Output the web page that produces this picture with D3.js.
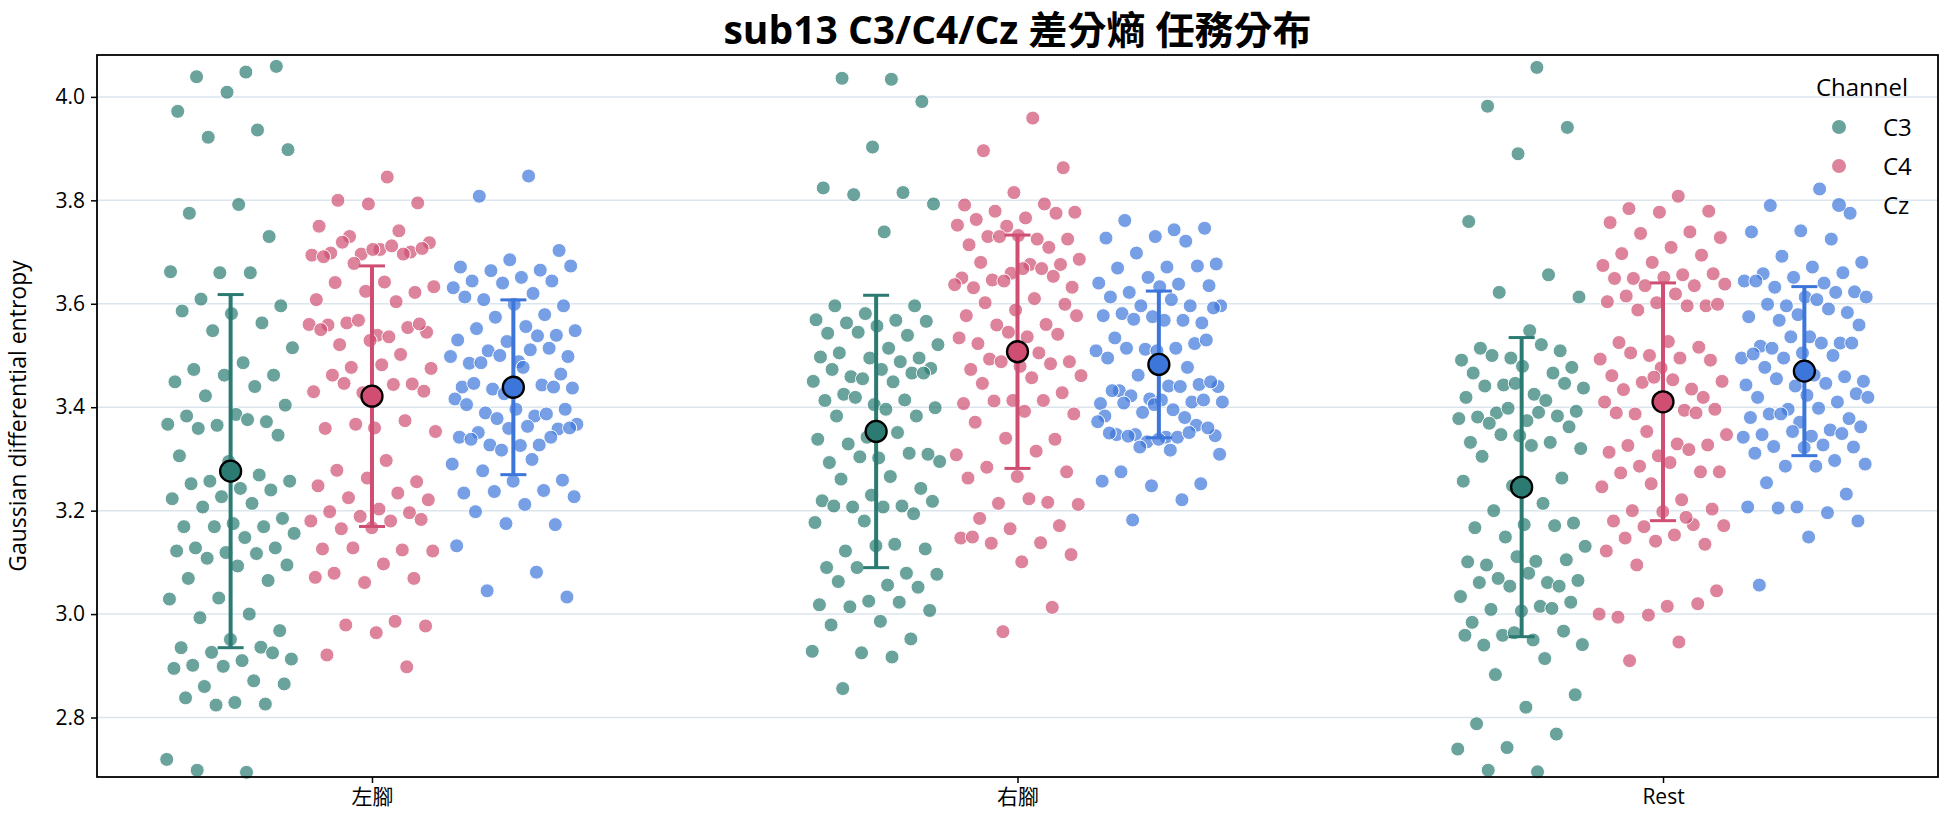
<!DOCTYPE html>
<html lang="zh-Hant">
<head>
<meta charset="utf-8">
<title>sub13 C3/C4/Cz 差分熵 任務分布</title>
<script src="https://cdn.jsdelivr.net/npm/d3@7"></script>
<style>
  body { margin: 0; background: #fff; }
  text { font-family: "Open Sans", "Noto Sans CJK TC", sans-serif; fill: #000; }
  .axis text { font-size: 21px; }
  .axis line { stroke: #000; stroke-width: 1.5; }
  .grid line { stroke: #dbe5ee; stroke-width: 1.5; }
</style>
</head>
<body>
<div id="chart"></div>
<script>
const categories = ['左腳', '右腳', 'Rest'];
const channels = ['C3', 'C4', 'Cz'];
const y_ticks = [2.8, 3.0, 3.2, 3.4, 3.6, 3.8, 4.0];

// values, one array per task x channel
const left_C3 = [4.048,4.039,4.059,4.009,3.972,3.936,3.922,3.898,3.792,3.775,3.730,3.660,3.662,3.660,3.609,3.596,3.581,3.586,3.563,3.548,3.515,3.486,3.473,3.462,3.462,3.449,3.440,3.422,3.404,3.386,3.383,3.372,3.365,3.367,3.376,3.359,3.346,3.295,3.306,3.269,3.257,3.257,3.243,3.252,3.240,3.227,3.223,3.214,3.207,3.185,3.175,3.169,3.169,3.169,3.156,3.148,3.128,3.128,3.119,3.122,3.117,3.108,3.095,3.093,3.069,3.065,3.031,3.029,3.000,2.993,2.968,2.951,2.935,2.936,2.926,2.913,2.910,2.901,2.925,2.899,2.895,2.871,2.860,2.865,2.829,2.838,2.826,2.824,2.719,2.694,2.698];
const left_C4 = [3.845,3.800,3.795,3.793,3.750,3.741,3.730,3.718,3.705,3.698,3.700,3.696,3.694,3.712,3.719,3.707,3.705,3.691,3.696,3.678,3.633,3.642,3.641,3.622,3.624,3.608,3.604,3.563,3.545,3.539,3.559,3.554,3.568,3.560,3.536,3.521,3.561,3.529,3.550,3.502,3.477,3.475,3.482,3.462,3.445,3.428,3.430,3.444,3.446,3.431,3.360,3.359,3.374,3.367,3.353,3.297,3.278,3.256,3.263,3.248,3.234,3.225,3.221,3.203,3.198,3.196,3.189,3.180,3.180,3.165,3.183,3.167,3.126,3.124,3.128,3.122,3.097,3.079,3.069,3.061,3.071,2.986,2.979,2.977,2.964,2.921,2.898];
const left_Cz = [3.847,3.808,3.703,3.685,3.671,3.665,3.664,3.673,3.651,3.644,3.644,3.640,3.631,3.620,3.608,3.596,3.599,3.613,3.579,3.574,3.548,3.556,3.552,3.539,3.527,3.530,3.538,3.509,3.498,3.488,3.485,3.514,3.500,3.498,3.511,3.486,3.464,3.444,3.439,3.443,3.435,3.437,3.477,3.446,3.439,3.426,3.416,3.383,3.389,3.396,3.396,3.405,3.387,3.378,3.367,3.363,3.351,3.358,3.359,3.342,3.327,3.327,3.360,3.326,3.338,3.342,3.317,3.290,3.299,3.277,3.259,3.257,3.234,3.239,3.237,3.227,3.212,3.198,3.173,3.175,3.132,3.081,3.045,3.033];
const right_C3 = [4.034,4.036,3.991,3.903,3.824,3.815,3.811,3.793,3.739,3.596,3.596,3.581,3.569,3.568,3.563,3.566,3.557,3.543,3.539,3.545,3.521,3.514,3.505,3.495,3.495,3.497,3.488,3.459,3.475,3.473,3.473,3.466,3.455,3.450,3.449,3.425,3.466,3.405,3.413,3.414,3.419,3.399,3.396,3.383,3.383,3.342,3.338,3.351,3.329,3.309,3.302,3.293,3.311,3.304,3.295,3.266,3.261,3.243,3.230,3.219,3.209,3.207,3.218,3.207,3.209,3.194,3.180,3.177,3.135,3.122,3.126,3.132,3.090,3.079,3.090,3.077,3.056,3.063,3.052,3.025,3.018,3.023,3.014,3.007,2.986,2.979,2.952,2.925,2.928,2.917,2.856];
const right_C4 = [3.959,3.896,3.863,3.815,3.791,3.793,3.779,3.777,3.766,3.763,3.775,3.750,3.752,3.725,3.730,3.725,3.732,3.714,3.709,3.730,3.686,3.676,3.680,3.676,3.659,3.650,3.668,3.646,3.632,3.668,3.631,3.653,3.644,3.637,3.610,3.602,3.599,3.588,3.577,3.560,3.559,3.577,3.536,3.523,3.541,3.545,3.534,3.505,3.493,3.488,3.479,3.473,3.484,3.488,3.461,3.457,3.446,3.428,3.413,3.407,3.413,3.412,3.387,3.392,3.371,3.338,3.340,3.308,3.315,3.284,3.275,3.266,3.263,3.216,3.214,3.212,3.223,3.185,3.171,3.165,3.147,3.138,3.137,3.115,3.101,3.149,3.013,2.966];
const right_Cz = [3.743,3.761,3.746,3.730,3.727,3.721,3.698,3.677,3.671,3.669,3.673,3.651,3.640,3.638,3.622,3.635,3.633,3.613,3.596,3.596,3.596,3.608,3.581,3.563,3.575,3.577,3.568,3.570,3.592,3.568,3.534,3.523,3.512,3.509,3.514,3.514,3.530,3.509,3.495,3.477,3.462,3.440,3.441,3.432,3.444,3.416,3.407,3.440,3.422,3.449,3.414,3.432,3.410,3.390,3.410,3.395,3.408,3.414,3.405,3.383,3.380,3.347,3.345,3.342,3.347,3.365,3.333,3.372,3.342,3.344,3.360,3.338,3.350,3.351,3.323,3.309,3.317,3.275,3.252,3.248,3.257,3.221,3.182];
const rest_C3 = [4.057,3.982,3.941,3.890,3.759,3.656,3.622,3.613,3.548,3.514,3.509,3.495,3.491,3.521,3.500,3.477,3.479,3.466,3.466,3.443,3.437,3.425,3.441,3.446,3.446,3.419,3.413,3.389,3.392,3.374,3.381,3.383,3.398,3.378,3.390,3.369,3.362,3.345,3.332,3.332,3.347,3.320,3.326,3.305,3.263,3.248,3.257,3.214,3.200,3.176,3.173,3.167,3.171,3.149,3.131,3.102,3.095,3.105,3.111,3.101,3.061,3.069,3.065,3.079,3.061,3.054,3.054,3.034,3.015,3.009,3.023,3.006,2.984,3.011,2.959,2.941,2.950,2.940,2.967,2.964,2.959,2.914,2.883,2.844,2.820,2.788,2.768,2.742,2.739,2.695,2.698];
const rest_C4 = [3.808,3.784,3.779,3.777,3.757,3.739,3.736,3.728,3.709,3.697,3.694,3.680,3.674,3.656,3.649,3.658,3.651,3.649,3.635,3.635,3.638,3.619,3.615,3.596,3.602,3.604,3.596,3.588,3.599,3.527,3.525,3.516,3.500,3.493,3.495,3.505,3.491,3.476,3.461,3.435,3.448,3.450,3.453,3.434,3.419,3.458,3.410,3.394,3.387,3.396,3.408,3.389,3.389,3.353,3.347,3.329,3.326,3.327,3.306,3.313,3.318,3.286,3.275,3.293,3.273,3.275,3.252,3.246,3.221,3.200,3.203,3.198,3.180,3.173,3.169,3.171,3.153,3.147,3.135,3.141,3.122,3.187,3.095,3.045,3.015,2.994,3.020,2.998,3.000,2.946,2.910];
const rest_Cz = [3.822,3.790,3.775,3.741,3.739,3.725,3.692,3.680,3.671,3.658,3.660,3.651,3.644,3.640,3.632,3.623,3.613,3.644,3.622,3.596,3.613,3.608,3.599,3.583,3.579,3.575,3.590,3.568,3.559,3.536,3.518,3.524,3.536,3.495,3.524,3.514,3.524,3.505,3.503,3.500,3.495,3.450,3.462,3.477,3.459,3.441,3.443,3.446,3.455,3.426,3.423,3.419,3.410,3.396,3.419,3.398,3.387,3.378,3.371,3.380,3.356,3.387,3.362,3.344,3.347,3.349,3.353,3.342,3.327,3.324,3.323,3.322,3.311,3.297,3.286,3.290,3.286,3.254,3.232,3.207,3.207,3.196,3.205,3.180,3.149,3.056];

const series = {
  C3: [left_C3, right_C3, rest_C3],
  C4: [left_C4, right_C4, rest_C4],
  Cz: [left_Cz, right_Cz, rest_Cz]
};

const svg_width = 1944;
const svg_height = 827;
const margin = {top: 55, right: 6, bottom: 50, left: 97};
const colors = {C3: '#2b7b72', C4: '#cf4e72', Cz: '#3d76db'};
const dodge = 0.219;     // hue offset, in category units
const jitter = 0.1;      // half width of the strip

const svg = d3.select('#chart')
  .append('svg')
  .attr('width', svg_width)
  .attr('height', svg_height);

const x_scale = d3.scaleLinear()
  .domain([-0.426, 2.426])
  .range([margin.left, svg_width - margin.right]);

const y_scale = d3.scaleLinear()
  .domain([2.685, 4.081])
  .range([svg_height - margin.bottom, margin.top]);

// grid
svg.append('g')
  .attr('class', 'grid')
  .selectAll('line')
  .data(y_ticks)
  .enter()
  .append('line')
  .attr('x1', margin.left)
  .attr('x2', svg_width - margin.right)
  .attr('y1', d => y_scale(d))
  .attr('y2', d => y_scale(d));

// points
const plot = svg.append('g');
channels.forEach((ch, ci) => {
  series[ch].forEach((vals, ki) => {
    const center = ki + (ci - 1) * dodge;
    plot.append('g')
      .selectAll('circle')
      .data(vals)
      .enter()
      .append('circle')
      .attr('cx', (d, i) => {
        const j = ((i + 1) * 0.6180339887) % 1;   // even spread, no randomness
        return x_scale(center + (j - 0.5) * 2 * jitter);
      })
      .attr('cy', d => y_scale(d))
      .attr('r', 7)
      .attr('fill', colors[ch])
      .attr('fill-opacity', 0.7)
      .attr('stroke', '#fff')
      .attr('stroke-width', 1);
  });
});

// mean +/- sd
channels.forEach((ch, ci) => {
  series[ch].forEach((vals, ki) => {
    const cx = x_scale(ki + (ci - 1) * dodge);
    const m = d3.mean(vals);
    const sd = d3.deviation(vals);
    const g = svg.append('g').attr('stroke', colors[ch]);
    g.append('line')
      .attr('x1', cx).attr('x2', cx)
      .attr('y1', y_scale(m - sd)).attr('y2', y_scale(m + sd))
      .attr('stroke-width', 4);
    [m - sd, m + sd].forEach(v => {
      g.append('line')
        .attr('x1', cx - 13).attr('x2', cx + 13)
        .attr('y1', y_scale(v)).attr('y2', y_scale(v))
        .attr('stroke-width', 3);
    });
    svg.append('circle')
      .attr('cx', cx)
      .attr('cy', y_scale(m))
      .attr('r', 10.5)
      .attr('fill', colors[ch])
      .attr('stroke', '#000')
      .attr('stroke-width', 2.3);
  });
});

// axes
const x_axis = d3.axisBottom(x_scale)
  .tickValues([0, 1, 2])
  .tickFormat(i => categories[i])
  .tickSize(6)
  .tickSizeOuter(0)
  .tickPadding(6);
const y_axis = d3.axisLeft(y_scale)
  .tickValues(y_ticks)
  .tickFormat(d3.format('.1f'))
  .tickSize(6)
  .tickSizeOuter(0)
  .tickPadding(6);

svg.append('g')
  .attr('class', 'axis')
  .attr('transform', `translate(0,${svg_height - margin.bottom})`)
  .call(x_axis)
  .call(g => g.select('.domain').remove());

svg.append('g')
  .attr('class', 'axis')
  .attr('transform', `translate(${margin.left},0)`)
  .call(y_axis)
  .call(g => g.select('.domain').remove());

// frame
svg.append('rect')
  .attr('x', margin.left)
  .attr('y', margin.top)
  .attr('width', svg_width - margin.left - margin.right)
  .attr('height', svg_height - margin.top - margin.bottom)
  .attr('fill', 'none')
  .attr('stroke', '#000')
  .attr('stroke-width', 1.8);

// labels
svg.append('text')
  .attr('x', (margin.left + svg_width - margin.right) / 2)
  .attr('y', 44)
  .attr('text-anchor', 'middle')
  .style('font-family', '"Open Sans", "Noto Sans CJK TC", sans-serif')
  .style('font-size', '39px')
  .style('font-weight', 'bold')
  .text('sub13 C3/C4/Cz 差分熵 任務分布');

svg.append('text')
  .attr('transform', `translate(26,${(margin.top + svg_height - margin.bottom) / 2}) rotate(-90)`)
  .attr('text-anchor', 'middle')
  .style('font-size', '23px')
  .text('Gaussian differential entropy');

// legend
const legend = svg.append('g');
legend.append('text')
  .attr('x', 1862)
  .attr('y', 96)
  .attr('text-anchor', 'middle')
  .style('font-size', '24px')
  .text('Channel');
channels.forEach((ch, i) => {
  const ly = 127 + i * 39;
  legend.append('circle')
    .attr('cx', 1839)
    .attr('cy', ly)
    .attr('r', 7)
    .attr('fill', colors[ch])
    .attr('fill-opacity', 0.7);
  legend.append('text')
    .attr('x', 1883)
    .attr('y', ly + 8.5)
    .style('font-size', '24px')
    .text(ch);
});
</script>
</body>
</html>
